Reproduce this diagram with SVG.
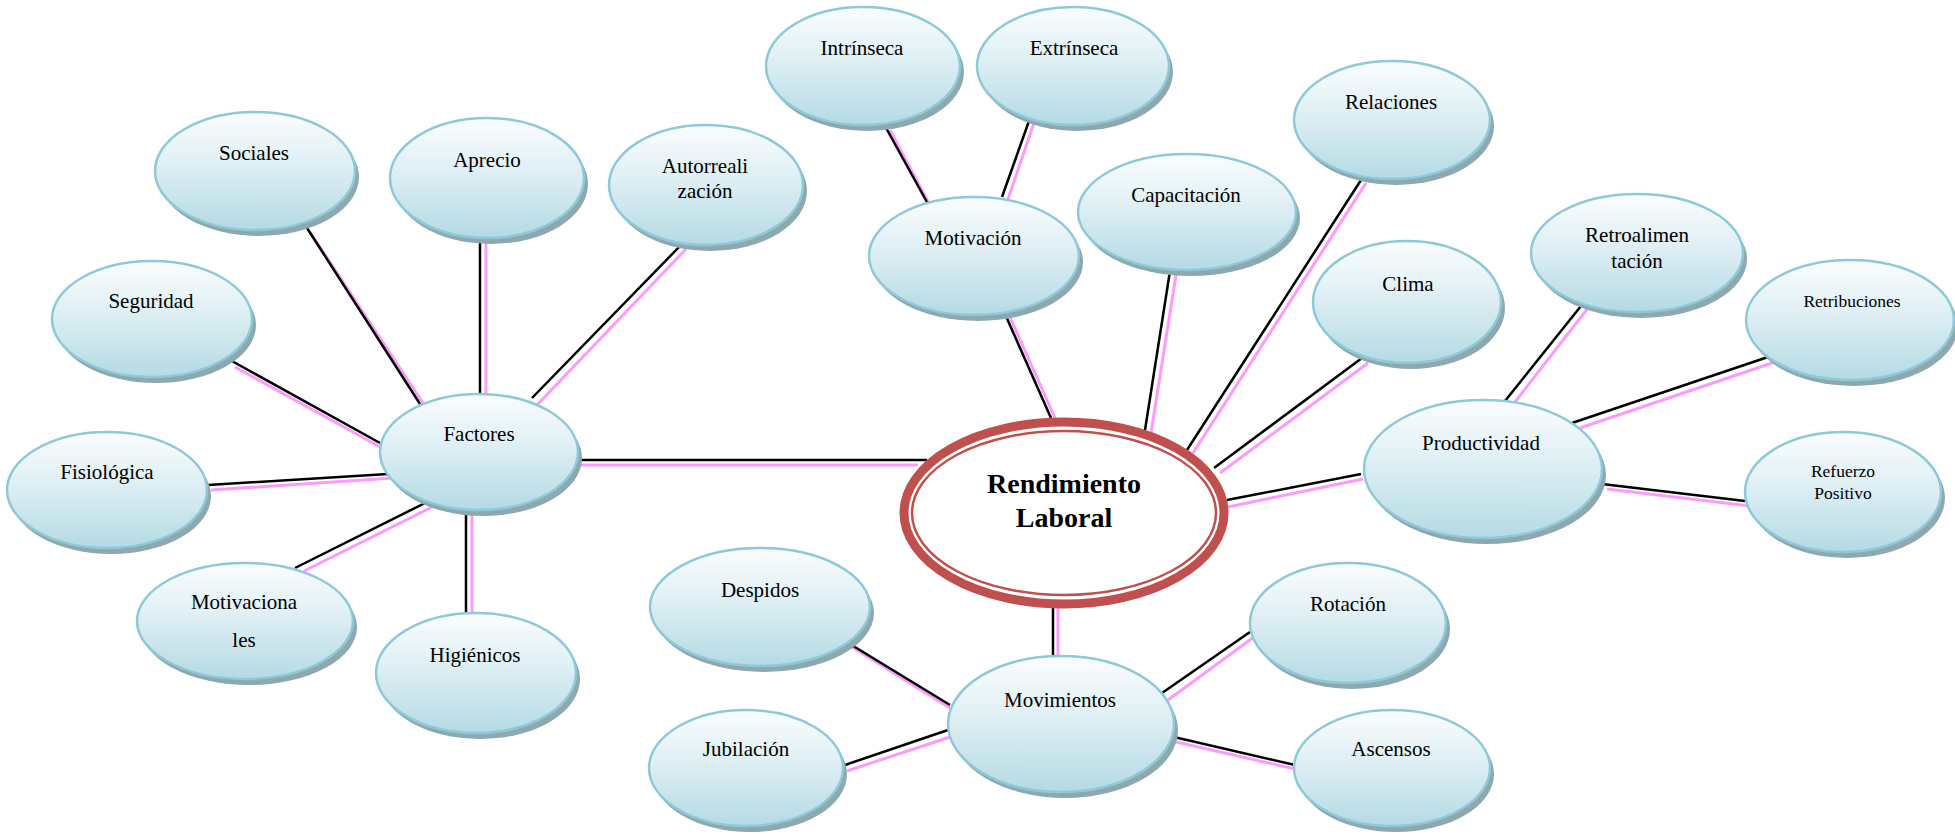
<svg xmlns="http://www.w3.org/2000/svg" width="1955" height="834" viewBox="0 0 1955 834">
<defs>
<linearGradient id="g" x1="0" y1="0" x2="0" y2="1">
<stop offset="0" stop-color="#fbfdfe"/>
<stop offset="0.45" stop-color="#deeff4"/>
<stop offset="1" stop-color="#b4dae4"/>
</linearGradient>
<style>
.sh{fill:#8ea8b0}
.nd{fill:url(#g);stroke:#8dc9d8;stroke-width:2.5}
.t{font-family:"Liberation Serif","Times New Roman",serif;font-size:21px;fill:#000;text-anchor:middle}
.s{font-size:17.5px}
.b{font-weight:bold;font-size:28px}
.k{stroke:#000;stroke-width:2.5;fill:none}
.p{stroke:#ff99ff;stroke-width:3;fill:none}
</style>
</defs>
<rect width="1955" height="834" fill="#fff"/>
<g id="connectors">
<line class="p" x1="310" y1="232" x2="423" y2="403"/><line class="k" x1="307" y1="228" x2="420" y2="404"/>
<line class="p" x1="486" y1="242" x2="486" y2="405"/><line class="k" x1="480" y1="237" x2="480" y2="399"/>
<line class="p" x1="686" y1="249" x2="537" y2="405"/><line class="k" x1="681" y1="245" x2="532" y2="398"/>
<line class="p" x1="235" y1="367" x2="382" y2="448"/><line class="k" x1="230" y1="360" x2="380" y2="443"/>
<line class="p" x1="211" y1="490" x2="393" y2="478"/><line class="k" x1="208" y1="485" x2="388" y2="474"/>
<line class="p" x1="580" y1="465" x2="918" y2="465"/><line class="k" x1="578" y1="460" x2="927" y2="460"/>
<line class="p" x1="304" y1="571" x2="434" y2="506"/><line class="k" x1="295" y1="568" x2="429" y2="501"/>
<line class="p" x1="472" y1="515" x2="472" y2="613"/><line class="k" x1="466" y1="510" x2="466" y2="613"/>
<line class="p" x1="890" y1="130" x2="933" y2="211"/><line class="k" x1="885" y1="126" x2="928" y2="204"/>
<line class="p" x1="1034" y1="123" x2="1007" y2="202"/><line class="k" x1="1029" y1="121" x2="1002" y2="197"/>
<line class="p" x1="1009" y1="315" x2="1055" y2="418"/><line class="k" x1="1005" y1="314" x2="1051" y2="418"/>
<line class="p" x1="1176" y1="275" x2="1151" y2="433"/><line class="k" x1="1170" y1="271" x2="1145" y2="430"/>
<line class="p" x1="1366" y1="183" x2="1193" y2="453"/><line class="k" x1="1361" y1="180" x2="1187" y2="450"/>
<line class="p" x1="1368" y1="363" x2="1220" y2="473"/><line class="k" x1="1362" y1="358" x2="1214" y2="468"/>
<line class="p" x1="1363" y1="479" x2="1228" y2="507"/><line class="k" x1="1361" y1="474" x2="1227" y2="500"/>
<line class="p" x1="1058" y1="607" x2="1058" y2="656"/><line class="k" x1="1053" y1="607" x2="1053" y2="656"/>
<line class="p" x1="852" y1="647" x2="953" y2="710"/><line class="k" x1="850" y1="644" x2="950" y2="705"/>
<line class="p" x1="847" y1="771" x2="950" y2="737"/><line class="k" x1="845" y1="765" x2="948" y2="730"/>
<line class="p" x1="1254" y1="637" x2="1168" y2="700"/><line class="k" x1="1250" y1="632" x2="1162" y2="693"/>
<line class="p" x1="1295" y1="769" x2="1172" y2="741"/><line class="k" x1="1295" y1="765" x2="1174" y2="737"/>
<line class="p" x1="1515" y1="402" x2="1588" y2="308"/><line class="k" x1="1505" y1="401" x2="1581" y2="306"/>
<line class="p" x1="1580" y1="428" x2="1775" y2="362"/><line class="k" x1="1572" y1="423" x2="1768" y2="357"/>
<line class="p" x1="1607" y1="489" x2="1750" y2="506"/><line class="k" x1="1602" y1="484" x2="1745" y2="501"/>
</g>
<g id="n-intrinseca"><ellipse class="sh" cx="867" cy="72" rx="97" ry="59"/><ellipse class="nd" cx="863" cy="66" rx="97" ry="59"/><text class="t" x="862" y="55">Intrínseca</text></g>
<g id="n-extrinseca"><ellipse class="sh" cx="1077" cy="72" rx="96" ry="59"/><ellipse class="nd" cx="1073" cy="66" rx="96" ry="59"/><text class="t" x="1074" y="55">Extrínseca</text></g>
<g id="n-relaciones"><ellipse class="sh" cx="1396" cy="126" rx="98" ry="59"/><ellipse class="nd" cx="1392" cy="120" rx="98" ry="59"/><text class="t" x="1391" y="109">Relaciones</text></g>
<g id="n-capacitacion"><ellipse class="sh" cx="1191" cy="218" rx="109" ry="58"/><ellipse class="nd" cx="1187" cy="212" rx="109" ry="58"/><text class="t" x="1186" y="202">Capacitación</text></g>
<g id="n-motivacion"><ellipse class="sh" cx="978" cy="262" rx="105" ry="59"/><ellipse class="nd" cx="974" cy="256" rx="105" ry="59"/><text class="t" x="973" y="245">Motivación</text></g>
<g id="n-clima"><ellipse class="sh" cx="1411" cy="308" rx="94" ry="61"/><ellipse class="nd" cx="1407" cy="302" rx="94" ry="61"/><text class="t" x="1408" y="291">Clima</text></g>
<g id="n-retroalimentacion"><ellipse class="sh" cx="1641" cy="259" rx="106" ry="59"/><ellipse class="nd" cx="1637" cy="253" rx="106" ry="59"/><text class="t" x="1637" y="242">Retroalimen</text><text class="t" x="1637" y="268">tación</text></g>
<g id="n-retribuciones"><ellipse class="sh" cx="1854" cy="326" rx="104" ry="60"/><ellipse class="nd" cx="1850" cy="320" rx="104" ry="60"/><text class="t s" x="1852" y="307">Retribuciones</text></g>
<g id="n-productividad"><ellipse class="sh" cx="1487" cy="475" rx="119" ry="69"/><ellipse class="nd" cx="1483" cy="469" rx="119" ry="69"/><text class="t" x="1481" y="450">Productividad</text></g>
<g id="n-refuerzo"><ellipse class="sh" cx="1847" cy="498" rx="98" ry="60"/><ellipse class="nd" cx="1843" cy="492" rx="98" ry="60"/><text class="t s" x="1843" y="477">Refuerzo</text><text class="t s" x="1843" y="499">Positivo</text></g>
<g id="n-rendimiento"><ellipse cx="1064" cy="513" rx="160" ry="91" fill="#fff" stroke="#c0504d" stroke-width="9"/><ellipse cx="1064" cy="513" rx="152" ry="82" fill="none" stroke="#c0504d" stroke-width="2.5"/><text class="t b" x="1064" y="493">Rendimiento</text><text class="t b" x="1064" y="527">Laboral</text></g>
<g id="n-sociales"><ellipse class="sh" cx="259" cy="177" rx="100" ry="59"/><ellipse class="nd" cx="255" cy="171" rx="100" ry="59"/><text class="t" x="254" y="160">Sociales</text></g>
<g id="n-aprecio"><ellipse class="sh" cx="491" cy="184" rx="97" ry="60"/><ellipse class="nd" cx="487" cy="178" rx="97" ry="60"/><text class="t" x="487" y="167">Aprecio</text></g>
<g id="n-autorrealizacion"><ellipse class="sh" cx="710" cy="191" rx="97" ry="60"/><ellipse class="nd" cx="706" cy="185" rx="97" ry="60"/><text class="t" x="705" y="173">Autorreali</text><text class="t" x="705" y="198">zación</text></g>
<g id="n-seguridad"><ellipse class="sh" cx="156" cy="325" rx="100" ry="58"/><ellipse class="nd" cx="152" cy="319" rx="100" ry="58"/><text class="t" x="151" y="308">Seguridad</text></g>
<g id="n-factores"><ellipse class="sh" cx="483" cy="458" rx="99" ry="58"/><ellipse class="nd" cx="479" cy="452" rx="99" ry="58"/><text class="t" x="479" y="441">Factores</text></g>
<g id="n-fisiologica"><ellipse class="sh" cx="111" cy="496" rx="100" ry="58"/><ellipse class="nd" cx="107" cy="490" rx="100" ry="58"/><text class="t" x="107" y="479">Fisiológica</text></g>
<g id="n-motivacionales"><ellipse class="sh" cx="249" cy="627" rx="108" ry="58"/><ellipse class="nd" cx="245" cy="621" rx="108" ry="58"/><text class="t" x="244" y="609">Motivaciona</text><text class="t" x="244" y="647">les</text></g>
<g id="n-higienicos"><ellipse class="sh" cx="480" cy="679" rx="100" ry="60"/><ellipse class="nd" cx="476" cy="673" rx="100" ry="60"/><text class="t" x="475" y="662">Higiénicos</text></g>
<g id="n-despidos"><ellipse class="sh" cx="764" cy="613" rx="110" ry="59"/><ellipse class="nd" cx="760" cy="607" rx="110" ry="59"/><text class="t" x="760" y="597">Despidos</text></g>
<g id="n-jubilacion"><ellipse class="sh" cx="750" cy="774" rx="97" ry="58"/><ellipse class="nd" cx="746" cy="768" rx="97" ry="58"/><text class="t" x="746" y="756">Jubilación</text></g>
<g id="n-movimientos"><ellipse class="sh" cx="1065" cy="730" rx="113" ry="68"/><ellipse class="nd" cx="1061" cy="724" rx="113" ry="68"/><text class="t" x="1060" y="707">Movimientos</text></g>
<g id="n-rotacion"><ellipse class="sh" cx="1352" cy="629" rx="98" ry="60"/><ellipse class="nd" cx="1348" cy="623" rx="98" ry="60"/><text class="t" x="1348" y="611">Rotación</text></g>
<g id="n-ascensos"><ellipse class="sh" cx="1396" cy="774" rx="98" ry="58"/><ellipse class="nd" cx="1392" cy="768" rx="98" ry="58"/><text class="t" x="1391" y="756">Ascensos</text></g>
</svg>
